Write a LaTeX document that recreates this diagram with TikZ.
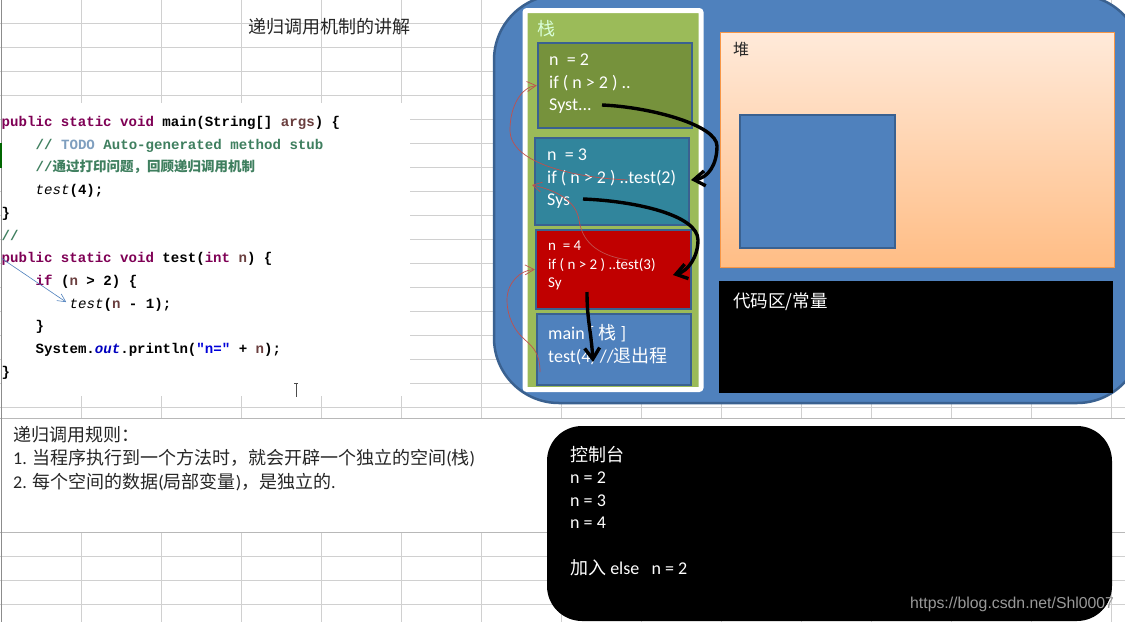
\documentclass[tikz,border=0pt]{standalone}
\usepackage{fontspec}
\usepackage{xcolor}
\usetikzlibrary{positioning,
        shadows,
        arrows.meta}
\setmainfont{Carlito}
\setmonofont{Liberation Mono}
\newfontfamily\cjk{Noto Sans CJK SC}
\newfontfamily\wmfont{Liberation Sans}
\newcommand{\cn}[1]{{\cjk #1}}
\definecolor{gridline}{HTML}{D0D0D0}
\definecolor{ruleline}{HTML}{B8B8B8}
\definecolor{boxedge}{HTML}{3A6190}
\definecolor{boxblue}{HTML}{4F81BD}
\definecolor{kw}{HTML}{7F0055}
\definecolor{cmt}{HTML}{3F7F5F}
\definecolor{todo}{HTML}{7F9FBF}
\definecolor{var}{HTML}{6A3E3E}
\definecolor{redline}{HTML}{C0504D}
\newcommand{\kw}[1]{\textcolor{kw}{#1}}
\newcommand{\vr}[1]{\textcolor{var}{#1}}
\tikzset{
    stackbox/.style={draw=boxedge, line width=2.5pt, minimum width=#1},
    boxtext/.style={anchor=base west, inner sep=0pt, text=white, font=\fontsize{18}{20}\selectfont},
    smalltext/.style={boxtext, font=\fontsize{15}{17}\selectfont},
    darktext/.style={anchor=base west, inner sep=0pt, text=black!85, font=\fontsize{18}{20}\selectfont},
    codeline/.style={anchor=base west, inner sep=0pt, font=\fontsize{14.1}{16}\ttfamily\bfseries},
    backarrow/.style={line width=3.4pt, -{Straight Barb[length=11pt,width=15pt]}},
    callarrow/.style={draw=redline, line width=0.7pt, -{Straight Barb[length=9pt,width=10pt]}},
    codearrow/.style={draw=boxblue, line width=0.6pt, -{Straight Barb[length=8pt,width=8pt]}}
}
\begin{document}
\begin{tikzpicture}[x=1pt,y=-1pt]
    \clip (0,0) rectangle (1125,622);
    \fill[white] (0,0) rectangle (1125,622);
    % sheet
    \foreach \gx in {81,161,241,321,401,481,561,641,721,801,871,951,1031,1111}
        \draw[gridline] (\gx,0) -- (\gx,622);
    \foreach \gy in {23,47,71,95,119,143,167,191,215,239,263,287,311,335,359,383,407,556,580,604}
        \draw[gridline] (0,\gy) -- (1125,\gy);
    \fill[white] (2,419) rectangle (1125,532);
    \fill[white] (2,103) rectangle (410,396);
    \draw[ruleline] (0,418.5) -- (1125,418.5);
    \draw[ruleline] (0,532) -- (1125,532);
    \draw[black!45, line width=1pt] (1.5,0) -- (1.5,622);
    \fill[green!40!black] (0,143) rectangle (2,168);

    \node [darktext, font=\fontsize{18}{20}\selectfont\cjk] (title) at (248,33) {递归调用机制的讲解};

    % code
    \node [codeline] (code1) at (1.5,126) {\kw{public static void} main(String[] \vr{args}) \{};
    \node [codeline, text=cmt] (code2) at (35.5,149) {// \textcolor{todo}{TODO} Auto-generated method stub};
    \node [codeline, text=cmt] (code3) at (35.5,171) {//{\cjk\fontsize{13.5}{16}\selectfont 通过打印问题，回顾递归调用机制}};
    \node [codeline] (code4) at (35.5,194) {{\mdseries\itshape test}(4);};
    \node [codeline] (code5) at (1.5,217) {\}};
    \node [codeline, text=cmt] (code6) at (1.5,240) {//};
    \node [codeline] (code7) at (1.5,262) {\kw{public static void} test(\kw{int} \vr{n}) \{};
    \node [codeline] (code8) at (35.5,285) {\kw{if} (\vr{n} > 2) \{};
    \node [codeline] (code9) at (69.5,308) {{\mdseries\itshape test}(\vr{n} - 1);};
    \node [codeline] (code10) at (35.5,330) {\}};
    \node [codeline] (code11) at (35.5,353) {System.\textcolor{blue!75!black}{\itshape out}.println(\textcolor{blue!85!black}{"n="} + \vr{n});};
    \node [codeline] (code12) at (1.5,376) {\}};
    \draw[codearrow, shorten >=4pt] (code7.west) -- (code9.west);
    % text cursor
    \draw[black!70, line width=0.7pt] (294,383) -- (298,383) (296,383) -- (296,397);

    % memory
    \node [draw=boxedge, line width=2.5pt, fill=boxblue, rounded corners=65pt, minimum width=648pt, minimum height=408pt] (memory) at (818,199) {};
    \node [draw=white, line width=5pt, rounded corners=2pt, minimum width=176pt, minimum height=379pt, fill={rgb,255:red,155;green,187;blue,89}] (stack) at (613,200) {};
    \node [boxtext, text=white!85!green, font=\fontsize{18}{20}\selectfont\cjk] (stacklabel) at (537,35) {栈};

    \node [stackbox=154pt, minimum height=85pt, fill={rgb,255:red,118;green,146;blue,60}] (frame1) at (615,85.5) {};
    \node [stackbox=154pt, minimum height=87pt, fill={rgb,255:red,49;green,133;blue,156}] (frame2) at (612,181.5) {};
    \node [stackbox=155pt, minimum height=79pt, fill={rgb,255:red,192;green,0;blue,0}] (frame3) at (613.5,269.5) {};
    \node [stackbox=154pt, minimum height=71pt, fill=boxblue] (frame4) at (614,349.5) {};

    \node [boxtext] (n2) at (549,65) {n~ = 2};
    \node [boxtext] (if2) at (549,88) {if ( n > 2 ) ..};
    \node [boxtext] (sys2) at (549,110) {Syst...};
    \node [boxtext] (n3) at (547,160) {n~ = 3};
    \node [boxtext] (if3) at (547,183) {if ( n > 2 ) ..test(2)};
    \node [boxtext] (sys3) at (547,205) {Sys};
    \node [smalltext] (n4) at (548,250) {n~ = 4};
    \node [smalltext] (if4) at (548,269) {if ( n > 2 ) ..test(3)};
    \node [smalltext] (sys4) at (548,287) {Sy};
    \node [boxtext] (main) at (548,339) {main [ \cn{栈} ]};
    \node [boxtext] (test4) at (548,362) {test(4) //\cn{退出程}};

    % returns
    \coordinate (out2) at (602,105);
    \coordinate (in3) at (691,180);
    \coordinate (out3) at (583,199);
    \coordinate (in4) at (673,275);
    \coordinate (out4) at (587,292);
    \coordinate (in5) at (593,362);
    \draw[backarrow] (out2) .. controls (650,107) and (717,125) .. (717,146) .. controls (717,165) and (708,178) .. (in3);
    \draw[backarrow] (out3) .. controls (635,201) and (698,215) .. (698,240) .. controls (698,257) and (688,271) .. (in4);
    \draw[backarrow] (out4) .. controls (587,320) and (591,330) .. (in5);

    % calls
    \coordinate (call3) at (628,180);
    \coordinate (call4) at (628,260);
    \coordinate (call5) at (540,372);
    \draw[callarrow] (call3) .. controls (580,178) and (510,165) .. (510,130) .. controls (510,105) and (522,87) .. (frame1.west);
    \draw[callarrow] (call4) .. controls (595,255) and (582,240) .. (579,220) .. controls (576,200) and (555,190) .. (532,185);
    \draw[callarrow] (call5) .. controls (540,350) and (530,345) .. (522,337) .. controls (510,325) and (507,310) .. (507,300) .. controls (507,283) and (520,270) .. (frame3.west);

    % heap
    \node [draw={rgb,255:red,247;green,150;blue,70}, top color={rgb,255:red,255;green,234;blue,218}, bottom color={rgb,255:red,255;green,189;blue,133}, line width=1pt, minimum width=394pt, minimum height=235pt, drop shadow={opacity=0.3, shadow xshift=0pt, shadow yshift=-2pt}] (heap) at (917,149.5) {};
    \node [darktext, font=\fontsize{16}{18}\selectfont\cjk] (heaplabel) at (733,55) {堆};
    \node [stackbox=155pt, minimum height=133pt, fill=boxblue] (object) at (817.5,181.5) {};
    \node [fill=black, minimum width=394pt, minimum height=112pt] (constants) at (916,337) {};
    \node [boxtext, font=\fontsize{17.5}{20}\selectfont\cjk] (constlabel) at (733,307) {代码区/常量};

    % rules
    \node [darktext] (rule0) at (13,441) {\cjk 递归调用规则：};
    \node [darktext] (rule1) at (13,464) {1. \cn{当程序执行到一个方法时，就会开辟一个独立的空间}(\cn{栈})};
    \node [darktext] (rule2) at (13,488) {2. \cn{每个空间的数据}(\cn{局部变量})\cn{，是独立的}.};

    % console
    \node [fill=black, rounded corners=35pt, minimum width=565pt, minimum height=195pt] (console) at (829.5,523.5) {};
    \node [boxtext, font=\fontsize{18}{20}\selectfont\cjk] (conlabel) at (570,461) {控制台};
    \node [boxtext] (con1) at (570,483) {n = 2};
    \node [boxtext] (con2) at (570,506) {n = 3};
    \node [boxtext] (con3) at (570,528) {n = 4};
    \node [boxtext] (con4) at (570,574) {\cn{加入} else ~ n = 2};
    \node [anchor=base west, inner sep=0pt, text=black!40, font=\fontsize{15.8}{18}\selectfont\wmfont] (mark) at (910,608) {https://blog.csdn.net/Shl0007};
\end{tikzpicture}
\end{document}
